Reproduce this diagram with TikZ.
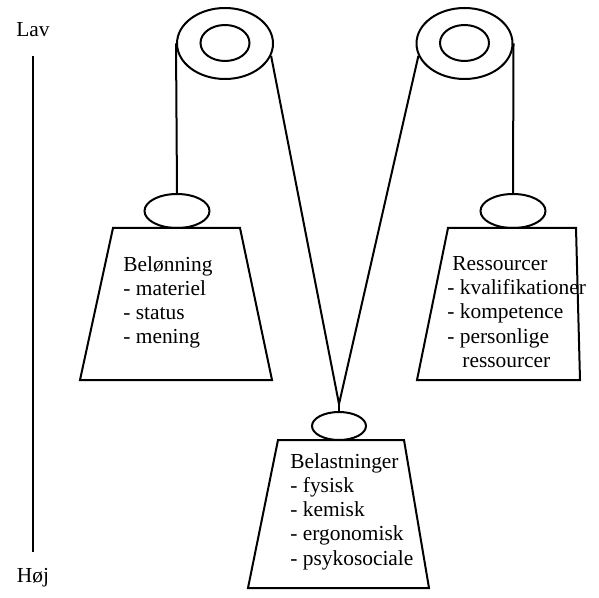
\documentclass[tikz,border=0pt]{standalone}
\usepackage{fontspec}
\setmainfont{Liberation Serif}
\usetikzlibrary{shapes.geometric}
\begin{document}
\begin{tikzpicture}[x=0.5pt, y=-0.5pt,
    linea/.style={line width=1pt},
    ruota/.style={draw, ellipse, line width=1pt, inner sep=0pt},
    gancio/.style={draw, ellipse, line width=1pt, inner sep=0pt, minimum width=32.5pt, minimum height=17pt},
    testo/.style={font=\fontsize{10.7}{12.1}\selectfont, align=left, anchor=north west, inner sep=0pt}]

  \useasboundingbox (0,0) rectangle (599,598);

  % scala a sinistra
  \node[testo, anchor=center] (lav) at (33,30) {Lav};
  \node[testo, anchor=center] (hoj) at (33,578) {Høj};
  \draw[linea] ([yshift=-9pt]lav.south) -- ([yshift=8pt]hoj.north);

  % carrucole
  \foreach \nome/\x in {S/225, D/464.5} {
    \node[ruota, minimum width=48pt, minimum height=35.5pt] (ruota\nome) at (\x,43.5) {};
    \node[ruota, minimum width=24.5pt, minimum height=18pt] (mozzo\nome) at (\x,43) {};
  }

  % ganci
  \node[gancio] (gancioS) at (177,211) {};
  \node[gancio] (gancioD) at (513,211) {};
  \node[gancio, minimum width=27pt, minimum height=14pt] (gancioB) at (339,426) {};

  % corde
  \coordinate (nodo) at (339,404);
  \draw[linea] (ruotaS.west) -- (gancioS.north);
  \draw[linea] (ruotaD.east) -- (gancioD.north);
  \draw[linea] (ruotaS.-15) -- (nodo) -- (ruotaD.195);
  \draw[linea] (nodo) -- (gancioB.north);

  % pesi
  \draw[linea] (113,228) -- (240,228) -- (272,380) -- (80,380) -- cycle;
  \draw[linea] (448,228) -- (576,228) -- (580,380) -- (417,380) -- cycle;
  \draw[linea] (278,440) -- (404,440) -- (429,588) -- (248,588) -- cycle;

  \node[testo] (belonning) at (123,256) {Belønning\\- materiel\\- status\\- mening};
  \node[testo] (ressourcer) at (447,256)
    {\hspace*{2.5pt}Ressourcer\\- kvalifikationer\\- kompetence\\- personlige\\\hspace*{7.5pt}ressourcer};
  \node[testo] (belastninger) at (290,453)
    {Belastninger\\- fysisk\\- kemisk\\- ergonomisk\\- psykosociale};
\end{tikzpicture}
\end{document}
